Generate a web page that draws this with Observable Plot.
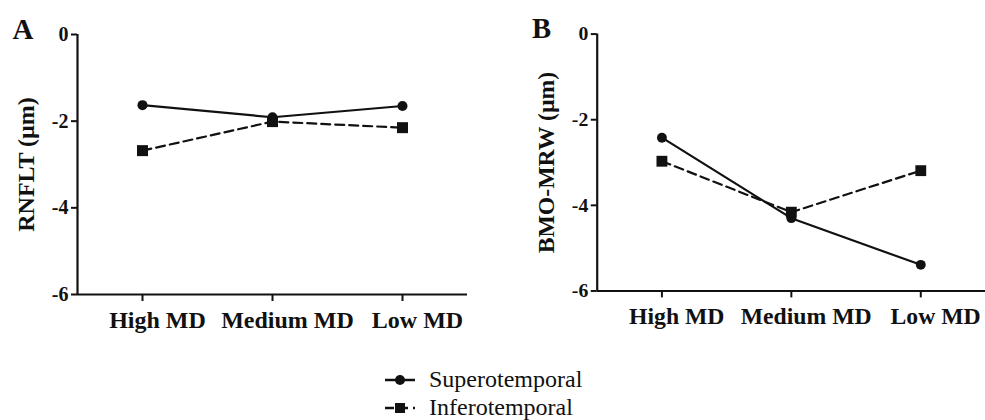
<!DOCTYPE html>
<html>
<head>
<meta charset="utf-8">
<script src="https://cdn.jsdelivr.net/npm/d3@7"></script>
<script src="https://cdn.jsdelivr.net/npm/@observablehq/plot@0.6"></script>
<style>
  html, body { margin: 0; padding: 0; background: #fff; overflow: hidden; }
  #wrap { position: relative; width: 985px; height: 420px; overflow: hidden; font-family: "Liberation Serif", "Times New Roman", serif; }
  #panelA { position: absolute; left: 0; top: 0; }
  #panelB { position: absolute; left: 490px; top: 0; }
  #legend { position: absolute; left: 0; top: 340px; }
</style>
</head>
<body>
<div id="wrap">
  <div id="panelA"></div>
  <div id="panelB"></div>
  <div id="legend"></div>
</div>
<script>
const categories = ["High MD", "Medium MD", "Low MD"];
const seriesNames = ["Superotemporal", "Inferotemporal"];
const rnfltSuperotemporal = [-1.63, -1.91, -1.65];
const rnfltInferotemporal = [-2.68, -2.01, -2.15];
const bmoSuperotemporal = [-2.42, -4.30, -5.39];
const bmoInferotemporal = [-2.97, -4.16, -3.19];
const yTicks = [0, -2, -4, -6];
const yDomain = [-6, 0];
const panelLetters = ["A", "B"];
const yTitles = ["RNFLT (\u00b5m)", "BMO-MRW (\u00b5m)"];

const INK = "#111";
const FONT = "\"Liberation Serif\", \"Times New Roman\", serif";

function rows(values, series) {
  return categories.map((c, i) => ({i, category: c, value: values[i], series}));
}

function makePanel({letter, title, sup, inf, width, marginLeft, marginRight, letterDx}) {
  const supRows = rows(sup, seriesNames[0]);
  const infRows = rows(inf, seriesNames[1]);
  const xTicks = categories.map((c, i) => i);
  return Plot.plot({
    width,
    height: 340,
    marginTop: 34,
    marginBottom: 46,
    marginLeft,
    marginRight,
    style: {fontFamily: FONT, fontWeight: "bold", color: INK, background: "transparent", overflow: "visible"},
    x: {domain: [-0.5, categories.length - 0.5], axis: null},
    y: {domain: yDomain, axis: null},
    marks: [
      Plot.ruleX([-0.5], {stroke: INK, strokeWidth: 2.2}),
      Plot.ruleY([yDomain[0]], {stroke: INK, strokeWidth: 2.2}),
      Plot.axisY({ticks: yTicks, tickFormat: d => String(d), tickSize: 6, tickPadding: 3,
                  fontSize: 20, fontWeight: "bold", strokeWidth: 2, stroke: INK, fill: INK, label: null}),
      Plot.axisX({ticks: xTicks, tickFormat: () => "", tickSize: 7,
                  strokeWidth: 2, stroke: INK, label: null}),
      Plot.axisX({ticks: xTicks, tickFormat: i => categories[i], tickSize: 0, tickPadding: 16, dx: 15,
                  fontSize: 24, fontWeight: "bold", fill: INK, label: null}),
      Plot.line(supRows, {x: "i", y: "value", stroke: INK, strokeWidth: 2.2}),
      Plot.line(infRows, {x: "i", y: "value", stroke: INK, strokeWidth: 2.2, strokeDasharray: "9,5"}),
      Plot.dot(supRows, {x: "i", y: "value", r: 5, symbol: "circle", fill: INK, stroke: "none"}),
      Plot.dot(infRows, {x: "i", y: "value", r: 6.2, symbol: "square", fill: INK, stroke: "none"}),
      Plot.text([title], {text: d => d, frameAnchor: "left", rotate: -90, dx: -51,
                          textAnchor: "middle", lineAnchor: "middle", fontSize: 24, fontWeight: "bold", fill: INK}),
      Plot.text([letter], {text: d => d, frameAnchor: "top-left", dx: letterDx, dy: 4,
                           textAnchor: "start", lineAnchor: "bottom", fontSize: 29, fontWeight: "bold", fill: INK})
    ]
  });
}

document.getElementById("panelA").append(makePanel({
  letter: panelLetters[0], title: yTitles[0], sup: rnfltSuperotemporal, inf: rnfltInferotemporal,
  width: 490, marginLeft: 77, marginRight: 23, letterDx: -65
}));
document.getElementById("panelB").append(makePanel({
  letter: panelLetters[1], title: yTitles[1], sup: bmoSuperotemporal, inf: bmoInferotemporal,
  width: 501, marginLeft: 108, marginRight: 0, letterDx: -66
}));

// Legend
const lg = d3.select("#legend").append("svg").attr("width", 985).attr("height", 80)
  .style("font-family", FONT);
const legendRows = [
  {name: seriesNames[0], symbol: d3.symbolCircle, size: Math.PI * 25, dash: null, cy: 40},
  {name: seriesNames[1], symbol: d3.symbolSquare, size: 100, dash: "9,5", cy: 68}
];
const item = lg.selectAll("g").data(legendRows).join("g")
  .attr("transform", d => `translate(0,${d.cy})`);
item.append("line").attr("x1", 385).attr("x2", 415).attr("y1", 0).attr("y2", 0)
  .attr("stroke", INK).attr("stroke-width", 2.5)
  .attr("stroke-dasharray", d => d.dash);
item.append("path").attr("transform", "translate(400,0)")
  .attr("d", d => d3.symbol(d.symbol, d.size)()).attr("fill", INK);
item.append("text").attr("x", 429).attr("y", 7).attr("font-size", 24).attr("fill", INK)
  .style("font-weight", "normal")
  .text(d => d.name);
</script>
</body>
</html>
